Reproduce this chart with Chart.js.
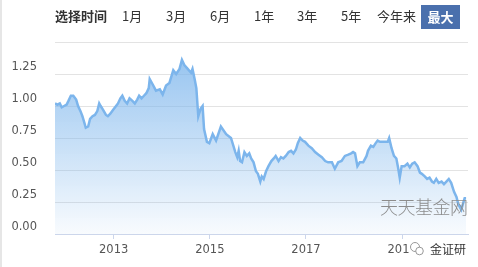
<!DOCTYPE html>
<html>
<head>
<meta charset="utf-8">
<script src="https://cdn.jsdelivr.net/npm/chart.js@4"></script>
<style>
  body { margin: 0; background: #fff; }
  #wrap { position: relative; width: 478px; height: 267px; overflow: hidden; }
  #wrap:before { content: ''; position: absolute; left: 0; top: 0; bottom: 0; width: 2px; background: #e6e6e6; z-index: 3; }
  canvas { position: absolute; left: 0; top: 0; }
  .nav { position: absolute; top: 7px; font: 13px "Noto Sans CJK SC", sans-serif; color: #333; line-height: 18px; }
  .nav b { font-weight: bold; }
  .btn { position: absolute; left: 421px; top: 5px; width: 39px; height: 24px; background: #4a70ad;
         color: #fff; font: bold 13px "Noto Sans CJK SC", sans-serif; line-height: 24px; text-align: center; }
  .mark { position: absolute; left: 380px; top: 193px; font: 300 18px "Noto Sans CJK SC", sans-serif; color: #8c8c8c; letter-spacing: -0.5px; }
  .logo { position: absolute; left: 409px; top: 241px; height: 16px; background: #fff; padding-right: 4px;
          font: 12px "Noto Sans CJK SC", sans-serif; color: #333; line-height: 16px; }
  .logo svg { vertical-align: top; margin-right: 5px; }
</style>
</head>
<body>
<div id="wrap">
  <canvas id="grafico" width="478" height="267"></canvas>
  <div class="nav" style="left:55px"><b>选择时间</b></div>
  <div class="nav" style="left:122px">1月</div>
  <div class="nav" style="left:166px">3月</div>
  <div class="nav" style="left:210px">6月</div>
  <div class="nav" style="left:254px">1年</div>
  <div class="nav" style="left:297px">3年</div>
  <div class="nav" style="left:341px">5年</div>
  <div class="nav" style="left:377px">今年来</div>
  <div class="btn">最大</div>
  <div class="mark">天天基金网</div>
  <div class="logo"><svg width="16" height="16" viewBox="0 0 16 16">
    <circle cx="6" cy="6" r="4.5" fill="none" stroke="#999" stroke-width="1"/>
    <circle cx="10.5" cy="10" r="3.8" fill="#fff" stroke="#999" stroke-width="1"/>
  </svg>金证研</div>
</div>
<script>
// datas (ano decimal) e valores
const anos = [
  2011.78, 2011.83, 2011.88, 2011.92, 2011.97, 2012.02, 2012.06, 2012.11, 2012.16, 2012.22,
  2012.26, 2012.31, 2012.35, 2012.39, 2012.42, 2012.47, 2012.51, 2012.56, 2012.61, 2012.66,
  2012.70, 2012.73, 2012.78, 2012.84, 2012.88, 2012.93, 2012.99, 2013.05, 2013.09, 2013.14,
  2013.18, 2013.23, 2013.28, 2013.33, 2013.39, 2013.44, 2013.49, 2013.53, 2013.58, 2013.63,
  2013.68, 2013.73, 2013.75, 2013.81, 2013.88, 2013.96, 2014.02, 2014.09, 2014.16, 2014.24,
  2014.30, 2014.37, 2014.42, 2014.47, 2014.54, 2014.61, 2014.64, 2014.69, 2014.72, 2014.76,
  2014.81, 2014.85, 2014.88, 2014.94, 2014.99, 2015.06, 2015.13, 2015.23, 2015.34, 2015.44,
  2015.53, 2015.57, 2015.60, 2015.63, 2015.67, 2015.72, 2015.77, 2015.82, 2015.86, 2015.91,
  2015.96, 2016.00, 2016.05, 2016.08, 2016.12, 2016.17, 2016.22, 2016.28, 2016.33, 2016.37,
  2016.43, 2016.48, 2016.53, 2016.58, 2016.64, 2016.69, 2016.74, 2016.79, 2016.83, 2016.88,
  2016.93, 2016.98, 2017.05, 2017.12, 2017.19, 2017.26, 2017.33, 2017.40, 2017.46, 2017.54,
  2017.60, 2017.67, 2017.74, 2017.81, 2017.88, 2017.94, 2017.98, 2018.02, 2018.07, 2018.12,
  2018.19, 2018.26, 2018.29, 2018.35, 2018.40, 2018.45, 2018.49, 2018.54, 2018.58, 2018.64,
  2018.70, 2018.73, 2018.78, 2018.83, 2018.88, 2018.92, 2018.95, 2018.99, 2019.05, 2019.11,
  2019.16, 2019.21, 2019.26, 2019.32, 2019.37, 2019.41, 2019.47, 2019.52, 2019.57, 2019.62,
  2019.66, 2019.71, 2019.76, 2019.82, 2019.87, 2019.92, 2019.97, 2020.02, 2020.08, 2020.13,
  2020.17, 2020.23, 2020.26, 2020.30, 2020.33
];
const valores = [
  1.02, 1.01, 1.02, 0.99, 1.00, 1.01, 1.04, 1.08, 1.08, 1.05,
  1.00, 0.96, 0.92, 0.87, 0.83, 0.84, 0.90, 0.92, 0.93, 0.96,
  1.02, 1.00, 0.97, 0.93, 0.92, 0.94, 0.97, 1.00, 1.02, 1.06,
  1.08, 1.04, 1.02, 1.06, 1.04, 1.02, 1.05, 1.08, 1.06, 1.08,
  1.10, 1.14, 1.21, 1.17, 1.12, 1.13, 1.09, 1.16, 1.18, 1.28,
  1.25, 1.29, 1.36, 1.32, 1.29, 1.26, 1.29, 1.20, 1.14, 0.92,
  0.98, 1.00, 0.82, 0.72, 0.71, 0.78, 0.73, 0.84, 0.78, 0.75,
  0.64, 0.60, 0.65, 0.57, 0.56, 0.64, 0.61, 0.63, 0.59, 0.56,
  0.49, 0.47, 0.41, 0.45, 0.43, 0.49, 0.53, 0.57, 0.59, 0.61,
  0.57, 0.60, 0.59, 0.61, 0.64, 0.65, 0.63, 0.66, 0.71, 0.75,
  0.73, 0.72, 0.69, 0.67, 0.64, 0.62, 0.60, 0.57, 0.56, 0.56,
  0.51, 0.56, 0.57, 0.61, 0.62, 0.63, 0.64, 0.63, 0.53, 0.56,
  0.56, 0.61, 0.65, 0.69, 0.68, 0.71, 0.73, 0.72, 0.72, 0.72,
  0.72, 0.75, 0.67, 0.61, 0.59, 0.51, 0.44, 0.53, 0.53, 0.55,
  0.52, 0.55, 0.56, 0.53, 0.48, 0.47, 0.45, 0.43, 0.44, 0.41,
  0.40, 0.43, 0.40, 0.41, 0.39, 0.41, 0.43, 0.40, 0.33, 0.29,
  0.23, 0.19, 0.23, 0.28, 0.28
];
const anosTicks = [2013, 2015, 2017, 2019];

const pontos = anos.map((a, i) => ({ x: a, y: valores[i] }));

function preenchimento(context) {
    const area = context.chart.chartArea;
    if (!area) return 'rgba(124,181,236,0.4)';
    const g = context.chart.ctx.createLinearGradient(0, area.top, 0, area.bottom);
    g.addColorStop(0, 'rgba(124,181,236,0.85)');
    g.addColorStop(1, 'rgba(124,181,236,0.05)');
    return g;
}

new Chart(document.getElementById('grafico').getContext('2d'), {
    type: 'line',
    data: {
        datasets: [{
            data: pontos,
            borderColor: '#7cb5ec',
            borderWidth: 2.5,
            backgroundColor: preenchimento,
            fill: 'origin',
            pointRadius: 0,
            tension: 0
        }]
    },
    options: {
        responsive: false,
        animation: false,
        layout: { padding: { top: 42, right: 10, left: 0, bottom: 0 } },
        plugins: { legend: { display: false }, tooltip: { enabled: false } },
        scales: {
            x: {
                type: 'linear',
                min: 2011.78,
                max: 2020.37,
                afterBuildTicks: scale => { scale.ticks = anosTicks.map(v => ({ value: v })); },
                afterFit: scale => { scale.height = 33; },
                grid: { drawOnChartArea: false, drawTicks: true, tickLength: 5, color: '#ccd6eb' },
                border: { display: true, color: '#ccd6eb', width: 1 },
                ticks: {
                    padding: 4,
                    color: '#555',
                    font: { family: 'DejaVu Sans', size: 11.5 },
                    maxRotation: 0,
                    callback: v => String(v)
                }
            },
            y: {
                min: 0,
                max: 1.5,
                afterFit: scale => { scale.width = 55; },
                grid: { color: '#e3e3e3', drawTicks: false },
                border: { display: false },
                ticks: {
                    stepSize: 0.25,
                    padding: 18,
                    labelOffset: -7,
                    color: '#555',
                    font: { family: 'DejaVu Sans', size: 11.5 },
                    callback: v => v === 1.5 ? '' : v.toFixed(2)
                }
            }
        }
    }
});
</script>
</body>
</html>
